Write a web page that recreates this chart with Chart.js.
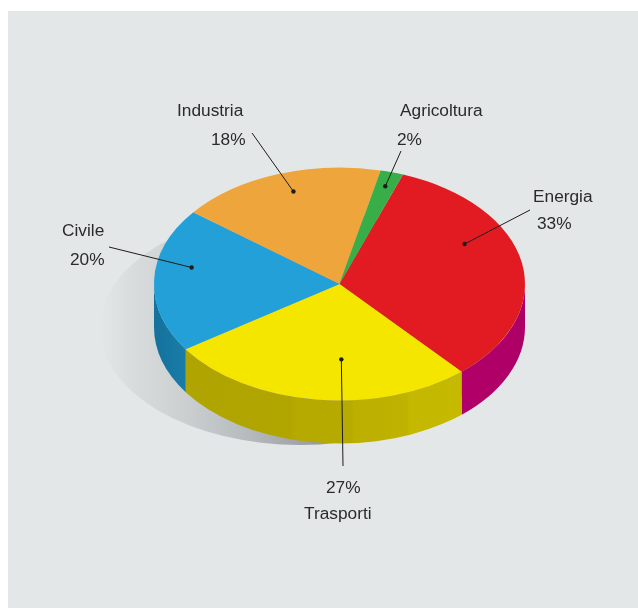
<!DOCTYPE html>
<html lang="it">
<head>
<meta charset="utf-8">
<title>Consumi per settore</title>
<script src="https://cdn.jsdelivr.net/npm/chart.js@4"></script>
<style>
  html, body { margin: 0; padding: 0; background: #fff; overflow: hidden; }
  canvas { display: block; }
</style>
</head>
<body>
<canvas id="pieChart" width="638" height="608"></canvas>
<script>
// Settori e quote, in senso orario a partire da Energia
const sectors = ['Energia', 'Trasporti', 'Civile', 'Industria', 'Agricoltura'];
const shares = [33, 27, 20, 18, 2];
const topColors = ['#e21b23', '#f5e600', '#23a0d7', '#eea53c', '#38ae48'];
const wallColors = [
    ['#b20069', '#ad0066'],
    ['#b0a400', '#c6ba00'],
    ['#14729c', '#1a7ca8'],
    ['#c9842c', '#c9842c'],
    ['#2a8a38', '#2a8a38']
];

// Punto di attacco delle linee di richiamo: angolo da nord e frazione del raggio
const dotAngles = [62.4, 179.5, 280.5, 342.5, 16];
const dotRadii = [0.756, 0.64, 0.815, 0.84, 0.88];
// Estremo libero delle linee di richiamo
const leaderEnds = [[530, 210], [343, 466], [109, 247], [252, 133], [401, 151]];
// Posizione dei testi: nome e percentuale
const nameAt = [[533, 202], [304, 519], [62, 235.5], [177, 116], [400, 116]];
const valueAt = [[537, 229], [326, 493], [70, 265], [211, 145], [397, 145]];

const squash = 116.5 / 185.5;
const depth = 43;

// Il fianco giallo ha bande verticali leggermente diverse
function trasportiWall(ctx, left, right) {
    const g = ctx.createLinearGradient(left, 0, right, 0);
    const steps = [[0, '#b0a400'], [0.38, '#b1a500'], [0.39, '#b5a900'], [0.6, '#b7ab00'],
        [0.61, '#bcaf00'], [0.8, '#bfb200'], [0.81, '#c4b800'], [1, '#c6ba00']];
    steps.forEach(s => g.addColorStop(s[0], s[1]));
    return g;
}

const pie3d = {
    id: 'pie3d',
    beforeDraw(chart) {
        const ctx = chart.ctx;
        ctx.fillStyle = '#fff';
        ctx.fillRect(0, 0, chart.width, chart.height);
        ctx.fillStyle = '#e4e7e8';
        ctx.fillRect(8, 11, chart.width - 8, chart.height - 11);
    },
    beforeDatasetsDraw(chart) {
        const ctx = chart.ctx;
        const arcs = chart.getDatasetMeta(0).data;
        const cx = arcs[0].x;
        const cy = arcs[0].y;
        const rx = arcs[0].outerRadius;
        const ry = rx * squash;

        // Ombra portata sul fondo
        const shade = ctx.createLinearGradient(100, 0, 320, 0);
        shade.addColorStop(0, '#e4e7e8');
        shade.addColorStop(0.15, '#d9dcdd');
        shade.addColorStop(0.36, '#cdd1d2');
        shade.addColorStop(0.68, '#b5babd');
        shade.addColorStop(1, '#979b9f');
        ctx.fillStyle = shade;
        ctx.beginPath();
        ctx.ellipse(300, 328, 200, 117, 0, 0, Math.PI * 2);
        ctx.fill();

        // Fianco del cilindro: solo la parte rivolta verso il basso
        arcs.forEach((arc, i) => {
            for (const shift of [0, Math.PI * 2, -Math.PI * 2]) {
                const a = Math.max(arc.startAngle + shift, 0);
                const b = Math.min(arc.endAngle + shift, Math.PI);
                if (b <= a) continue;
                const left = Math.min(cx + rx * Math.cos(a), cx + rx * Math.cos(b));
                const right = Math.max(cx + rx * Math.cos(a), cx + rx * Math.cos(b));
                if (i === 1) {
                    ctx.fillStyle = trasportiWall(ctx, left, right);
                } else {
                    const wall = ctx.createLinearGradient(left, 0, right, 0);
                    wall.addColorStop(0, wallColors[i][0]);
                    wall.addColorStop(1, wallColors[i][1]);
                    ctx.fillStyle = wall;
                }
                ctx.beginPath();
                ctx.ellipse(cx, cy, rx, ry, 0, a, b);
                ctx.ellipse(cx, cy + depth, rx, ry, 0, b, a, true);
                ctx.closePath();
                ctx.fill();
            }
        });

        // Il disco superiore viene schiacciato in un'ellisse
        ctx.save();
        ctx.translate(cx, cy);
        ctx.scale(1, squash);
        ctx.translate(-cx, -cy);
    },
    afterDatasetsDraw(chart) {
        const ctx = chart.ctx;
        ctx.restore();

        const arcs = chart.getDatasetMeta(0).data;
        const cx = arcs[0].x;
        const cy = arcs[0].y;
        const rx = arcs[0].outerRadius;

        sectors.forEach((name, i) => {
            const angle = dotAngles[i] * Math.PI / 180;
            const dotX = cx + 0.8 + rx * dotRadii[i] * Math.sin(angle);
            const dotY = cy + 0.8 - rx * squash * dotRadii[i] * Math.cos(angle);

            ctx.strokeStyle = '#1d1d1b';
            ctx.lineWidth = 1;
            ctx.beginPath();
            ctx.moveTo(leaderEnds[i][0], leaderEnds[i][1]);
            ctx.lineTo(dotX, dotY);
            ctx.stroke();

            ctx.fillStyle = '#1d1d1b';
            ctx.beginPath();
            ctx.arc(dotX, dotY, 2.2, 0, Math.PI * 2);
            ctx.fill();

            ctx.fillStyle = '#2b2b2b';
            ctx.font = '17.3px "Liberation Sans", Arial, sans-serif';
            ctx.textAlign = 'left';
            ctx.textBaseline = 'alphabetic';
            ctx.fillText(name, nameAt[i][0], nameAt[i][1]);
            ctx.fillText(shares[i] + '%', valueAt[i][0], valueAt[i][1]);
        });
    }
};

new Chart(document.getElementById('pieChart'), {
    type: 'pie',
    data: {
        labels: sectors,
        datasets: [{
            data: shares,
            backgroundColor: topColors,
            borderWidth: 0
        }]
    },
    options: {
        responsive: false,
        animation: false,
        rotation: 20,
        layout: { padding: { left: 154, right: 113, top: 98.5, bottom: 138.5 } },
        plugins: {
            legend: { display: false },
            tooltip: { enabled: false }
        }
    },
    plugins: [pie3d]
});
</script>
</body>
</html>
